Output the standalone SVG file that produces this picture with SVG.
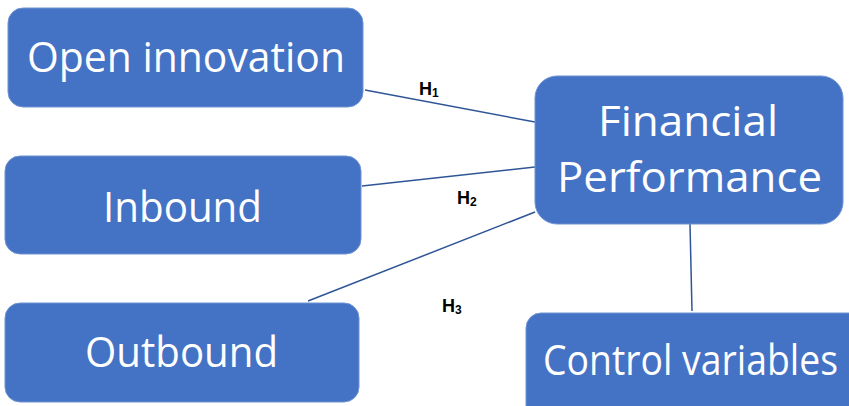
<svg xmlns="http://www.w3.org/2000/svg" width="849" height="406" viewBox="0 0 849 406">
  <style>
    .box { fill: #4472C4; stroke: #6f93d3; stroke-width: 1; }
    .lbl { fill: #ffffff; font-family: "Open Sans", "Noto Sans", "Liberation Sans", sans-serif; font-size: 42px; }
    .conn { stroke: #2F5597; stroke-width: 1.5; fill: none; }
    .h { fill: #000000; font-family: "Liberation Sans", Arial, sans-serif; font-weight: bold; font-size: 18px; }
    .sub { font-size: 12px; }
  </style>
  <rect x="0" y="0" width="849" height="406" fill="#ffffff"/>
  <g id="connectors">
    <line class="conn" x1="365" y1="90" x2="535" y2="122"/>
    <line class="conn" x1="362" y1="186" x2="535" y2="167"/>
    <line class="conn" x1="308" y1="301" x2="535" y2="212"/>
    <line class="conn" x1="690" y1="224" x2="692" y2="311"/>
    <text class="h" x="419" y="95">H<tspan class="sub" dy="2">1</tspan></text>
    <text class="h" x="457" y="204">H<tspan class="sub" dy="2">2</tspan></text>
    <text class="h" x="442" y="312">H<tspan class="sub" dy="2">3</tspan></text>
  </g>
  <g id="open-innovation">
    <rect class="box" x="8" y="8" width="355" height="99" rx="15"/>
    <text class="lbl" x="27" y="72" textLength="318" lengthAdjust="spacingAndGlyphs">Open innovation</text>
  </g>
  <g id="inbound">
    <rect class="box" x="5" y="156" width="356" height="98" rx="15"/>
    <text class="lbl" x="103" y="222" textLength="159" lengthAdjust="spacingAndGlyphs">Inbound</text>
  </g>
  <g id="outbound">
    <rect class="box" x="5" y="303" width="354" height="99" rx="15"/>
    <text class="lbl" x="85" y="367" textLength="193" lengthAdjust="spacingAndGlyphs">Outbound</text>
  </g>
  <g id="financial-performance">
    <rect class="box" x="535" y="76" width="308" height="148" rx="22"/>
    <text class="lbl" x="598" y="136" textLength="180" lengthAdjust="spacingAndGlyphs">Financial</text>
    <text class="lbl" x="557" y="192" textLength="265" lengthAdjust="spacingAndGlyphs">Performance</text>
  </g>
  <g id="control-variables">
    <rect class="box" x="526" y="313" width="340" height="110" rx="15"/>
    <text class="lbl" x="543" y="375" textLength="295" lengthAdjust="spacingAndGlyphs">Control variables</text>
  </g>
</svg>
